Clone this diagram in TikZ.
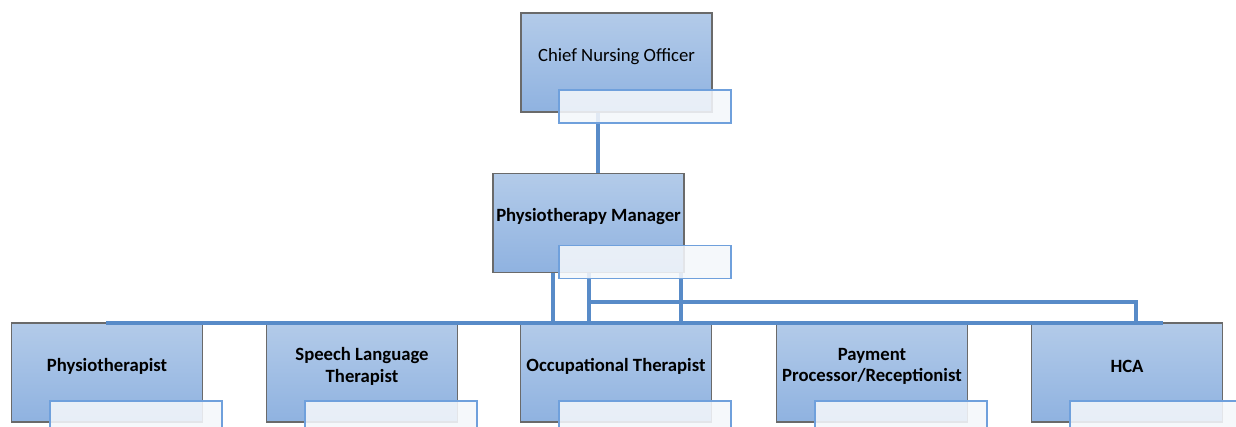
\documentclass[tikz,border=0pt]{standalone}
\usepackage{fontspec}
\setmainfont{Carlito}
\definecolor{boxtop}{HTML}{B3CBE9}
\definecolor{boxbot}{HTML}{8FB2E0}
\definecolor{boxline}{HTML}{6A6A6A}
\definecolor{linkblue}{HTML}{588BC8}
\definecolor{subline}{HTML}{6FA0DC}
\definecolor{subfill}{HTML}{F4F7FB}
\tikzset{
  subbox/.style = {draw=subline, line width=1.5pt, fill=subfill, fill opacity=0.88,
    minimum width=172pt, minimum height=33pt, inner sep=0pt},
  link/.style = {draw=linkblue, line width=3.1pt}
}
\begin{document}
\begin{tikzpicture}[x=1pt, y=-1pt]
  \useasboundingbox (0,0) rectangle (1236,427);
  \clip (0,0) rectangle (1236,427);

  \begin{scope}[every node/.style = {draw=boxline, line width=1.5pt, top color=boxtop,
      bottom color=boxbot, minimum width=191pt, minimum height=99pt, inner sep=0pt}]
    \node(1) at (616.5,62.5) {};
    \node(2) at (588.5,223) {};
    \node(3) at (107,372.5) {};
    \node(4) at (362,372.5) {};
    \node(5) at (616,372.5) {};
    \node(6) at (872,372.5) {};
    \node(7) at (1127,372.5) {};
  \end{scope}

  \begin{scope}[every node/.style = {align=center, yshift=6pt, font=\fontsize{18.7}{21.5}\selectfont\bfseries}]
    \node[font=\fontsize{18.7}{21.5}\selectfont](1t) at (1.center) {Chief Nursing Officer};
    \node(2t) at (2.center) {Physiotherapy Manager};
    \node(3t) at (3.center) {Physiotherapist};
    \node(4t) at (4.center) {Speech Language\\Therapist};
    \node(5t) at (5.center) {Occupational Therapist};
    \node(6t) at (6.center) {Payment\\Processor/Receptionist};
    \node(7t) at (7.center) {HCA};
  \end{scope}

  % connectors
  \coordinate (busL) at (106,323);
  \coordinate (busR) at (1163,323);
  \coordinate (hcaR) at (1136,302);
  \draw[link] ([xshift=-18.5pt]1.south) -- ([xshift=-18.5pt]1.south |- 2.north);
  \draw[link] (busL) -- (busR);
  \draw[link] ([xshift=-35.5pt]2.south) -- ([xshift=-35.5pt]2.south |- busL);
  \draw[link] ([xshift=0.5pt]2.south) -- ([xshift=0.5pt]2.south |- busL);
  \draw[link] ([xshift=92.5pt]2.south) -- ([xshift=92.5pt]2.south |- busL);
  \draw[link] ([xshift=0.5pt]2.south |- hcaR) -- (hcaR) -- (hcaR |- busL);

  \node[subbox](1s) at (645,106.5) {};
  \node[subbox](2s) at (645,262) {};
  \node[subbox](3s) at (136,417.5) {};
  \node[subbox](4s) at (391,417.5) {};
  \node[subbox](5s) at (645,417.5) {};
  \node[subbox](6s) at (901,417.5) {};
  \node[subbox](7s) at (1156,417.5) {};
\end{tikzpicture}
\end{document}
